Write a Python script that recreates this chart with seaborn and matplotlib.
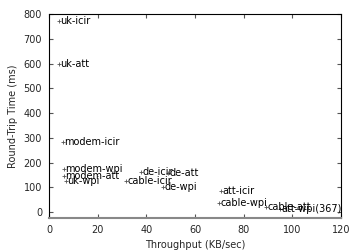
import matplotlib
matplotlib.use("Agg")
import matplotlib.pyplot as plt
import seaborn as sns
import pandas as pd

names = ["uk-icir", "uk-att", "modem-icir", "modem-wpi", "modem-att", "uk-wpi",
         "de-icir", "de-att", "cable-icir", "de-wpi", "att-icir", "cable-wpi",
         "cable-att", "att-wpi(367)"]
throughput = [4.1, 4.1, 5.8, 6.2, 6.0, 7.0, 38.0, 49.0, 31.6, 47.0, 70.7, 70.0, 89.0, 95.0]
rtt = [772, 600, 284, 172, 147, 125, 160, 158, 125, 102, 85, 38, 20, 12]

df = pd.DataFrame({"Throughput": throughput, "RTT": rtt, "name": names})

sns.set_theme(style="white")
plt.rcParams["font.family"] = ["DejaVu Sans"]

fig = plt.figure(figsize=(3.6, 2.52), dpi=100)
ax = fig.add_axes([49/360, 34/252, 292/360, 204/252])

sns.scatterplot(data=df, x="Throughput", y="RTT", marker="+", color="#555555",
                s=12, linewidth=0.6, ax=ax, legend=False)

for n, x, y in zip(names, throughput, rtt):
    ax.text(x + 0.6, y, n, fontsize=7, ha="left", va="center", color="black")

ax.set_xlim(0, 120)
ax.set_ylim(-24, 800)
ax.set_xticks([0, 20, 40, 60, 80, 100, 120])
ax.set_yticks([0, 100, 200, 300, 400, 500, 600, 700, 800])
ax.tick_params(direction="in", length=3, width=0.8, color="#555555",
               labelsize=7, top=True, right=True, bottom=True, left=True, pad=5)
for s in ["left", "top", "right"]:
    ax.spines[s].set_color("black")
    ax.spines[s].set_linewidth(0.8)
ax.spines["bottom"].set_color("#888888")
ax.spines["bottom"].set_linewidth(1.5)

ax.set_xlabel("Throughput (KB/sec)", fontsize=7, labelpad=4)
ax.set_ylabel("Round-Trip Time (ms)", fontsize=7, labelpad=4)

fig.savefig("out.png", dpi=100)
